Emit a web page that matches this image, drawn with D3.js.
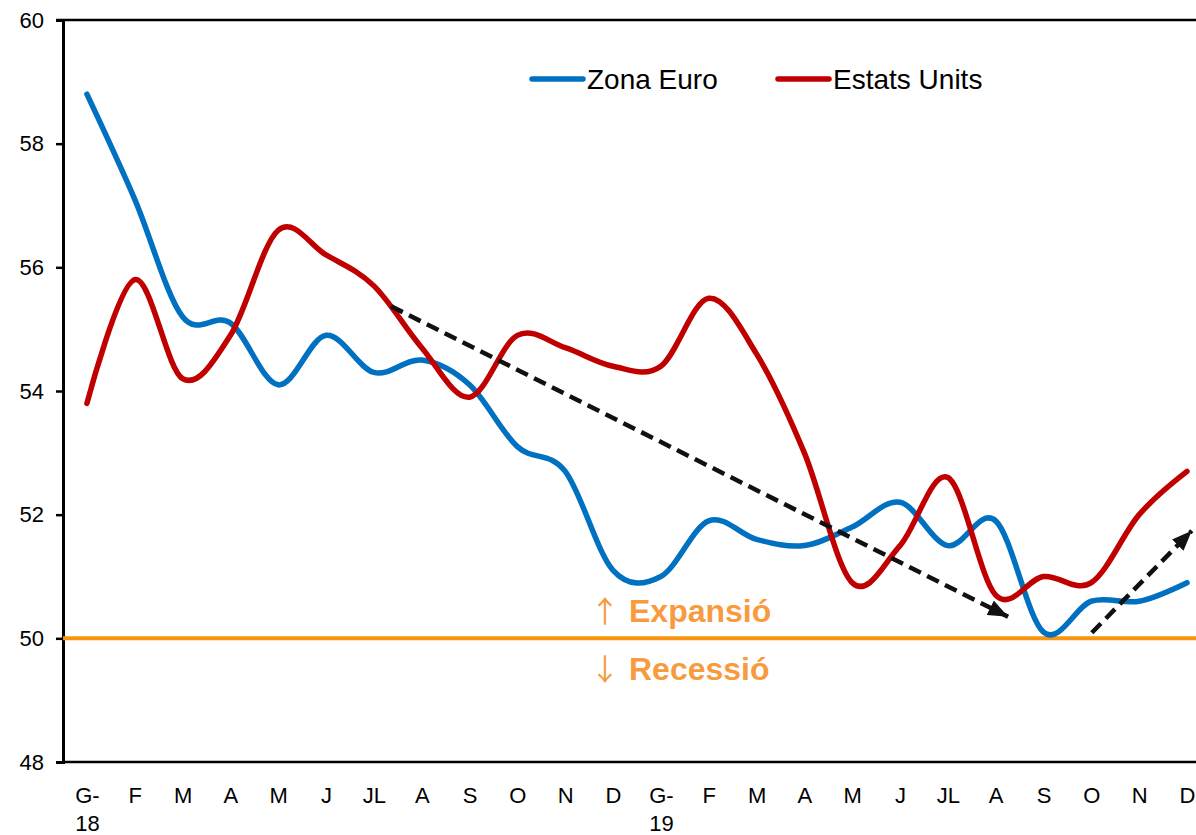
<!DOCTYPE html>
<html>
<head>
  <meta charset="utf-8">
  <script src="https://d3js.org/d3.v7.min.js"></script>
  <style>
    body { margin: 0; background: #fff; }
    svg { display: block; font-family: Arial, "Liberation Sans", sans-serif; }
  </style>
</head>
<body>
  <div id="chart"></div>
  <script>

  // month labels (first line / second line)
  var months = ["G-", "F", "M", "A", "M", "J", "JL", "A", "S", "O", "N", "D",
                "G-", "F", "M", "A", "M", "J", "JL", "A", "S", "O", "N", "D"];
  var years = ["18", "", "", "", "", "", "", "", "", "", "", "",
               "19", "", "", "", "", "", "", "", "", "", "", ""];

  var zonaEuro = [58.8, 57.1, 55.2, 55.1, 54.1, 54.9, 54.3, 54.5, 54.1, 53.1, 52.7, 51.1,
                  51.0, 51.9, 51.6, 51.5, 51.8, 52.2, 51.5, 51.9, 50.1, 50.6, 50.6, 50.9];
  var estatsUnits = [53.8, 55.8, 54.2, 54.9, 56.6, 56.2, 55.7, 54.7, 53.9, 54.9, 54.7, 54.4,
                     54.4, 55.5, 54.6, 53.0, 50.9, 51.5, 52.6, 50.7, 51.0, 50.9, 52.0, 52.7];

  var yTicks = [48, 50, 52, 54, 56, 58, 60];

  // trend arrows: [month index, value] start -> end
  var arrows = [
    [[6.36, 55.37], [19.26, 50.35]],
    [[21.01, 50.09], [23.10, 51.74]]
  ];

  var width = 1196,
      height = 835,
      margin = {top: 20, left: 63, bottom: 73};

  var svg = d3.select("#chart").append("svg")
    .attr("width", width)
    .attr("height", height);

  var x = d3.scaleLinear()
    .domain([-0.5, 23.5])
    .range([margin.left, margin.left + 24 * 47.83]);

  var y = d3.scaleLinear()
    .domain([48, 60])
    .range([height - margin.bottom, margin.top]);

  // top border
  svg.append("line")
    .attr("x1", margin.left - 7)
    .attr("x2", width)
    .attr("y1", y(60))
    .attr("y2", y(60))
    .attr("stroke", "#000")
    .attr("stroke-width", 2.5);

  // y axis
  var yAxis = svg.append("g")
    .attr("transform", "translate(" + margin.left + ",0)")
    .call(d3.axisLeft(y).tickValues(yTicks).tickSize(7).tickPadding(12).tickFormat(d3.format("d")));
  yAxis.select(".domain").attr("stroke-width", 3);
  yAxis.selectAll(".tick line").attr("stroke-width", 2.5);
  yAxis.selectAll("text")
    .style("font-size", "22px")
    .attr("fill", "#000")
    .attr("font-family", "Arial, 'Liberation Sans', sans-serif");

  // x axis
  var xAxis = svg.append("g")
    .attr("transform", "translate(0," + y(48) + ")")
    .call(d3.axisBottom(x).tickValues(d3.range(24)).tickSize(0).tickFormat(""));
  xAxis.select(".domain")
    .attr("d", "M" + margin.left + ",0H" + width)
    .attr("stroke-width", 2.5);

  xAxis.selectAll(".tick").append("text")
    .attr("fill", "#000")
    .attr("text-anchor", "middle")
    .style("font-size", "22px")
    .attr("font-family", "Arial, 'Liberation Sans', sans-serif")
    .each(function(d) {
      var t = d3.select(this);
      t.append("tspan").attr("x", 0).attr("y", 41).text(months[d]);
      if (years[d]) t.append("tspan").attr("x", 0).attr("y", 69).text(years[d]);
    });

  // 50 line (expansion / recession)
  svg.append("line")
    .attr("x1", margin.left)
    .attr("x2", width)
    .attr("y1", y(50))
    .attr("y2", y(50))
    .attr("stroke", "#F7960E")
    .attr("stroke-width", 4);

  var zones = [
    {arrow: "\u2191", label: "Expansió", dy: -16},
    {arrow: "\u2193", label: "Recessió", dy: 42}
  ];

  var zt = svg.selectAll(".zone")
    .data(zones)
    .enter().append("text")
    .attr("class", "zone")
    .attr("x", 590)
    .attr("y", function(d) { return y(50) + d.dy; })
    .attr("fill", "#F89B3F")
    .attr("font-weight", "bold")
    .style("font-size", "32px");

  zt.append("tspan")
    .attr("font-family", "'Noto Sans CJK SC', 'DejaVu Sans', sans-serif")
    .attr("font-weight", "normal")
    .style("font-size", "30px")
    .text(function(d) { return d.arrow; });

  zt.append("tspan")
    .attr("x", 629)
    .text(function(d) { return d.label; });

  // series
  var line = d3.line()
    .x(function(d, i) { return x(i); })
    .y(function(d) { return y(d); })
    .curve(d3.curveCatmullRom.alpha(0));

  svg.append("path")
    .datum(zonaEuro)
    .attr("fill", "none")
    .attr("stroke", "#0070C0")
    .attr("stroke-width", 5.5)
    .attr("stroke-linecap", "round")
    .attr("d", line);

  svg.append("path")
    .datum(estatsUnits)
    .attr("fill", "none")
    .attr("stroke", "#C00000")
    .attr("stroke-width", 5.5)
    .attr("stroke-linecap", "round")
    .attr("d", line);

  // arrows
  svg.append("defs").append("marker")
    .attr("id", "head")
    .attr("markerUnits", "userSpaceOnUse")
    .attr("viewBox", "0 0 20 16")
    .attr("refX", 20)
    .attr("refY", 8)
    .attr("markerWidth", 20)
    .attr("markerHeight", 16)
    .attr("orient", "auto")
    .append("path")
    .attr("d", "M0,0L20,8L0,16Z")
    .attr("fill", "#111");

  svg.selectAll(".arrow")
    .data(arrows)
    .enter().append("line")
    .attr("class", "arrow")
    .attr("x1", function(d) { return x(d[0][0]); })
    .attr("y1", function(d) { return y(d[0][1]); })
    .attr("x2", function(d) { return x(d[1][0]); })
    .attr("y2", function(d) { return y(d[1][1]); })
    .attr("stroke", "#111")
    .attr("stroke-width", 4.5)
    .attr("stroke-dasharray", "13,7")
    .attr("marker-end", "url(#head)");

  // legend
  var legend = [
    {name: "Zona Euro", color: "#0070C0", x: 530},
    {name: "Estats Units", color: "#C00000", x: 776}
  ];

  var lg = svg.selectAll(".legend")
    .data(legend)
    .enter().append("g")
    .attr("class", "legend")
    .attr("transform", function(d) { return "translate(" + d.x + ",79)"; });

  lg.append("line")
    .attr("x1", 2)
    .attr("x2", 53)
    .attr("stroke", function(d) { return d.color; })
    .attr("stroke-width", 5.5)
    .attr("stroke-linecap", "round");

  lg.append("text")
    .attr("x", 57)
    .attr("y", 10)
    .style("font-size", "28px")
    .attr("fill", "#000")
    .text(function(d) { return d.name; });

  </script>
</body>
</html>
